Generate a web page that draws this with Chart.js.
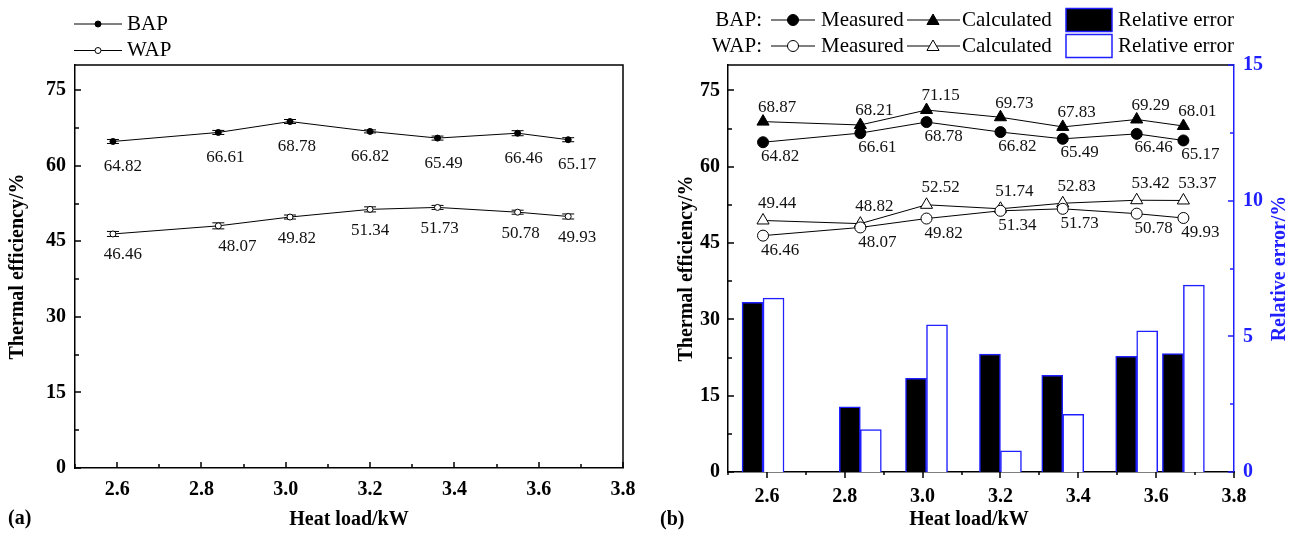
<!DOCTYPE html>
<html>
<head>
<meta charset="utf-8">
<script src="https://cdn.jsdelivr.net/npm/chart.js@4.4.1/dist/chart.umd.min.js"></script>
<style>
  html, body { margin: 0; padding: 0; background: #fff; }
  #wrap { position: relative; width: 1300px; height: 533px; }
  .panel { position: absolute; top: 0; width: 650px; height: 533px; }
</style>
</head>
<body>
<div id="wrap">
  <div class="panel" style="left:0"><canvas id="chartA"></canvas></div>
  <div class="panel" style="left:650px"><canvas id="chartB"></canvas></div>
</div>
<script>
// heat load (kW) for each test point
const heatLoad = [2.59, 2.84, 3.01, 3.20, 3.36, 3.55, 3.67];

// thermal efficiency, %
const bapMeasured = [64.82, 66.61, 68.78, 66.82, 65.49, 66.46, 65.17];
const wapMeasured = [46.46, 48.07, 49.82, 51.34, 51.73, 50.78, 49.93];
const bapCalculated = [68.87, 68.21, 71.15, 69.73, 67.83, 69.29, 68.01];
const wapCalculated = [49.44, 48.82, 52.52, 51.74, 52.83, 53.42, 53.37];

// error bar half-heights on the measured values
const bapSpread = [0.4, 0.4, 0.4, 0.3, 0.4, 0.5, 0.4];
const wapSpread = [0.5, 0.6, 0.4, 0.5, 0.4, 0.4, 0.5];

// relative error, %
const bapRelError = [6.25, 2.40, 3.45, 4.35, 3.56, 4.26, 4.36];
const wapRelError = [6.41, 1.56, 5.42, 0.78, 2.13, 5.20, 6.89];

const xTicks = [2.6, 2.8, 3.0, 3.2, 3.4, 3.6, 3.8];
const yTicks = [0, 15, 30, 45, 60, 75];
const errTicks = [0, 5, 10, 15];

const serif = "'Liberation Serif', 'Times New Roman', serif";
const blue = "#1f1fff";
Chart.defaults.font.family = serif;
Chart.defaults.color = "#000";

const pts = (xs, ys) => xs.map((x, i) => ({ x, y: ys[i] }));
const halfSteps = (vals, step, max) => vals.map(v => v + step).filter(v => v < max);

function tickMarks(ctx, scale, values, len, dir, color) {
    ctx.save();
    ctx.strokeStyle = color;
    ctx.lineWidth = 1.5;
    ctx.beginPath();
    values.forEach(v => {
        const p = Math.round(scale.getPixelForValue(v));
        if (scale.isHorizontal()) {
            ctx.moveTo(p, scale.top);
            ctx.lineTo(p, scale.top + dir * len);
        } else {
            const x0 = scale.position === "left" ? scale.right : scale.left;
            ctx.moveTo(x0, p);
            ctx.lineTo(x0 + dir * len, p);
        }
    });
    ctx.stroke();
    ctx.restore();
}

function marker(ctx, style, x, y, r, fill) {
    ctx.beginPath();
    if (style === "triangle") {
        ctx.moveTo(x, y - r);
        ctx.lineTo(x + 0.866 * r, y + 0.5 * r);
        ctx.lineTo(x - 0.866 * r, y + 0.5 * r);
        ctx.closePath();
    } else {
        ctx.arc(x, y, r, 0, Math.PI * 2);
    }
    ctx.fillStyle = fill;
    ctx.fill();
    ctx.strokeStyle = "#000";
    ctx.lineWidth = 1;
    ctx.stroke();
}

function text(ctx, str, x, y, font, color, align, rot) {
    ctx.save();
    ctx.font = font;
    ctx.fillStyle = color || "#000";
    ctx.textAlign = align || "left";
    ctx.textBaseline = "middle";
    ctx.translate(x, y);
    if (rot) ctx.rotate(rot);
    ctx.fillText(str, 0, 0);
    ctx.restore();
}

function pointLabels(chart, placement) {
    const ctx = chart.ctx;
    placement.forEach(p => {
        const meta = chart.getDatasetMeta(p.ds);
        const vals = chart.data.datasets[p.ds].data;
        meta.data.forEach((el, i) => {
            const dx = Array.isArray(p.dx) ? p.dx[i] : p.dx;
            text(ctx, vals[i].y.toFixed(2), el.x + dx, el.y + p.dy, "17px " + serif, "#111", "center");
        });
    });
}

function lineStyle(label, values, fill, style, r) {
    return {
        type: "line",
        label,
        data: pts(heatLoad, values),
        borderColor: "#000",
        borderWidth: 1,
        backgroundColor: fill,
        pointStyle: style,
        pointRadius: r,
        pointBorderWidth: 1,
        pointBorderColor: "#000",
        pointBackgroundColor: fill,
        tension: 0,
        yAxisID: "y",
    };
}

const tickFont = { size: 20, weight: "bold" };
const titleFont = { size: 20, weight: "bold" };

// ---------- (a) ----------
const decorA = {
    id: "decorA",
    beforeDatasetsDraw(chart) {
        const { ctx, scales: { x, y } } = chart;
        ctx.save();
        ctx.strokeStyle = "#000";
        ctx.lineWidth = 1;
        [[bapMeasured, bapSpread], [wapMeasured, wapSpread]].forEach(([vals, sd]) => {
            vals.forEach((v, i) => {
                const px = x.getPixelForValue(heatLoad[i]);
                const top = y.getPixelForValue(v + sd[i]);
                const bot = y.getPixelForValue(v - sd[i]);
                ctx.beginPath();
                ctx.moveTo(px, top); ctx.lineTo(px, bot);
                ctx.moveTo(px - 6, top); ctx.lineTo(px + 6, top);
                ctx.moveTo(px - 6, bot); ctx.lineTo(px + 6, bot);
                ctx.stroke();
            });
        });
        ctx.restore();
    },
    afterDatasetsDraw(chart) {
        pointLabels(chart, [
            { ds: 0, dx: [10, 7, 7, 0, 6, 6, 9], dy: 25 },
            { ds: 1, dx: [10, 19, 7, 0, 2, 3, 9], dy: 21 },
        ]);
    },
    afterDraw(chart) {
        const { ctx, chartArea: a, scales: { x, y } } = chart;
        ctx.save();
        ctx.strokeStyle = "#000";
        ctx.lineWidth = 1.5;
        ctx.beginPath();
        ctx.moveTo(a.left, a.top); ctx.lineTo(a.right, a.top); ctx.lineTo(a.right, a.bottom);
        ctx.stroke();
        ctx.restore();
        tickMarks(ctx, y, yTicks, 6, 1, "#000");
        tickMarks(ctx, y, halfSteps(yTicks, 7.5, 80), 4, 1, "#000");
        tickMarks(ctx, x, xTicks, 6, -1, "#000");
        tickMarks(ctx, x, xTicks.map(v => v - 0.1), 4, -1, "#000");

        // legend
        chart.data.datasets.forEach((ds, i) => {
            const ly = 24 + i * 26.5;
            ctx.save();
            ctx.strokeStyle = "#000";
            ctx.lineWidth = 1;
            ctx.beginPath();
            ctx.moveTo(74, ly); ctx.lineTo(122, ly);
            ctx.stroke();
            ctx.restore();
            marker(ctx, "circle", 98, ly, 3, ds.pointBackgroundColor);
            text(ctx, ds.label, 127, ly, "21px " + serif, "#000");
        });
        text(ctx, "(a)", 8, 519, "bold 20px " + serif, "#000");
    },
};

new Chart(document.getElementById("chartA"), {
    type: "line",
    data: {
        datasets: [
            lineStyle("BAP", bapMeasured, "#000", "circle", 3),
            lineStyle("WAP", wapMeasured, "#fff", "circle", 3),
        ],
    },
    options: {
        responsive: true,
        maintainAspectRatio: false,
        animation: false,
        devicePixelRatio: 1,
        layout: { padding: { top: 65, right: 27, left: 0, bottom: 0 } },
        plugins: { legend: { display: false }, tooltip: { enabled: false } },
        scales: {
            x: {
                type: "linear",
                min: 2.5,
                max: 3.8,
                afterBuildTicks: s => { s.ticks = xTicks.map(v => ({ value: v })); },
                afterFit: s => { s.height = 65; },
                grid: { display: false, drawTicks: false },
                border: { color: "#000", width: 1.5 },
                ticks: { padding: 10, font: tickFont, color: "#000", maxRotation: 0, autoSkip: false,
                         callback: v => v.toFixed(1) },
                title: { display: true, text: "Heat load/kW", font: titleFont, color: "#000",
                         padding: { top: 0, bottom: 1 } },
            },
            y: {
                min: 0,
                max: 80,
                afterBuildTicks: s => { s.ticks = yTicks.map(v => ({ value: v })); },
                afterFit: s => { s.width = 75; },
                grid: { display: false, drawTicks: false },
                border: { color: "#000", width: 1.5 },
                ticks: { padding: 9, font: tickFont, color: "#000" },
                title: { display: true, text: "Thermal efficiency/%", font: titleFont, color: "#000",
                         padding: { top: 6, bottom: 0 } },
            },
        },
    },
    plugins: [decorA],
});

// ---------- (b) ----------
const decorB = {
    id: "decorB",
    afterDatasetsDraw(chart) {
        pointLabels(chart, [
            { ds: 0, dx: 17, dy: 14 },
            { ds: 1, dx: 14, dy: -14 },
            { ds: 2, dx: 17, dy: 15 },
            { ds: 3, dx: 14, dy: -17 },
        ]);
    },
    afterDraw(chart) {
        const { ctx, chartArea: a, scales: { x, y, y2 } } = chart;
        ctx.save();
        ctx.strokeStyle = "#000";
        ctx.lineWidth = 1.5;
        ctx.beginPath();
        ctx.moveTo(a.left, a.top); ctx.lineTo(a.right, a.top);
        ctx.stroke();
        ctx.restore();
        tickMarks(ctx, y, yTicks, 6, 1, "#000");
        tickMarks(ctx, y, halfSteps(yTicks, 7.5, 80), 4, 1, "#000");
        tickMarks(ctx, y2, errTicks, 6, -1, blue);
        tickMarks(ctx, y2, halfSteps(errTicks, 2.5, 15), 4, -1, blue);
        tickMarks(ctx, x, xTicks, 6, 1, "#000");
        tickMarks(ctx, x, xTicks.map(v => v - 0.1), 3, 1, "#000");

        // legend: two rows, BAP then WAP
        const ds = chart.data.datasets;
        const rows = [
            { name: "BAP:", y: 20, meas: ds[0], calc: ds[1], bar: ds[4] },
            { name: "WAP:", y: 46, meas: ds[2], calc: ds[3], bar: ds[5] },
        ];
        rows.forEach(r => {
            text(ctx, r.name, 112, r.y, "21px " + serif, "#000", "right");
            ctx.save();
            ctx.strokeStyle = "#000";
            ctx.lineWidth = 1;
            ctx.beginPath();
            ctx.moveTo(121, r.y); ctx.lineTo(165, r.y);
            ctx.moveTo(257, r.y); ctx.lineTo(310, r.y);
            ctx.stroke();
            ctx.restore();
            marker(ctx, "circle", 143, r.y, 5.5, r.meas.pointBackgroundColor);
            text(ctx, r.meas.label, 171, r.y, "21px " + serif, "#000");
            marker(ctx, "triangle", 283, r.y + 1, 7, r.calc.pointBackgroundColor);
            text(ctx, r.calc.label, 312, r.y, "21px " + serif, "#000");
            ctx.save();
            ctx.fillStyle = r.bar.backgroundColor;
            ctx.strokeStyle = r.bar.borderColor;
            ctx.lineWidth = 1.5;
            ctx.fillRect(416, r.y - 11.5, 46, 23);
            ctx.strokeRect(416, r.y - 11.5, 46, 23);
            ctx.restore();
            text(ctx, r.bar.label, 468, r.y, "21px " + serif, "#000");
        });

        text(ctx, "Heat load/kW", 319, 520, "bold 20px " + serif, "#000", "center");
        text(ctx, "Relative error/%", 630, (a.top + a.bottom) / 2, "bold 20px " + serif, blue, "center", -Math.PI / 2);
        text(ctx, "(b)", 10, 520, "bold 20px " + serif, "#000");
    },
};

new Chart(document.getElementById("chartB"), {
    type: "bar",
    data: {
        datasets: [
            lineStyle("Measured", bapMeasured, "#000", "circle", 5.5),
            lineStyle("Calculated", bapCalculated, "#000", "triangle", 7),
            lineStyle("Measured", wapMeasured, "#fff", "circle", 5.5),
            lineStyle("Calculated", wapCalculated, "#fff", "triangle", 7),
            {
                type: "bar", label: "Relative error", data: pts(heatLoad, bapRelError), yAxisID: "y2",
                backgroundColor: "#000", borderColor: blue, borderWidth: 1.5, barThickness: 21,
            },
            {
                type: "bar", label: "Relative error", data: pts(heatLoad, wapRelError), yAxisID: "y2",
                backgroundColor: "#fff", borderColor: blue, borderWidth: 1.5, barThickness: 21,
            },
        ],
    },
    options: {
        responsive: true,
        maintainAspectRatio: false,
        animation: false,
        devicePixelRatio: 1,
        layout: { padding: { top: 65, right: 0, left: 0, bottom: 0 } },
        plugins: { legend: { display: false }, tooltip: { enabled: false } },
        scales: {
            x: {
                type: "linear",
                offset: false,
                min: 2.5,
                max: 3.8,
                afterBuildTicks: s => { s.ticks = xTicks.map(v => ({ value: v })); },
                afterFit: s => { s.height = 61; },
                grid: { display: false, drawTicks: false },
                border: { color: "#000", width: 1.5 },
                ticks: { padding: 13, font: tickFont, color: "#000", maxRotation: 0, autoSkip: false,
                         callback: v => v.toFixed(1) },
            },
            y: {
                position: "left",
                min: 0,
                max: 80,
                afterBuildTicks: s => { s.ticks = yTicks.map(v => ({ value: v })); },
                afterFit: s => { s.width = 78; },
                grid: { display: false, drawTicks: false },
                border: { color: "#000", width: 1.5 },
                ticks: { padding: 8, font: tickFont, color: "#000" },
                title: { display: true, text: "Thermal efficiency/%", font: titleFont, color: "#000",
                         padding: { top: 25, bottom: 0 } },
            },
            y2: {
                position: "right",
                min: 0,
                max: 15,
                afterBuildTicks: s => { s.ticks = errTicks.map(v => ({ value: v })); },
                afterFit: s => { s.width = 66; },
                grid: { display: false, drawTicks: false },
                border: { color: blue, width: 1.5 },
                ticks: { padding: 9, font: tickFont, color: blue },
            },
        },
    },
    plugins: [decorB],
});
</script>
</body>
</html>
